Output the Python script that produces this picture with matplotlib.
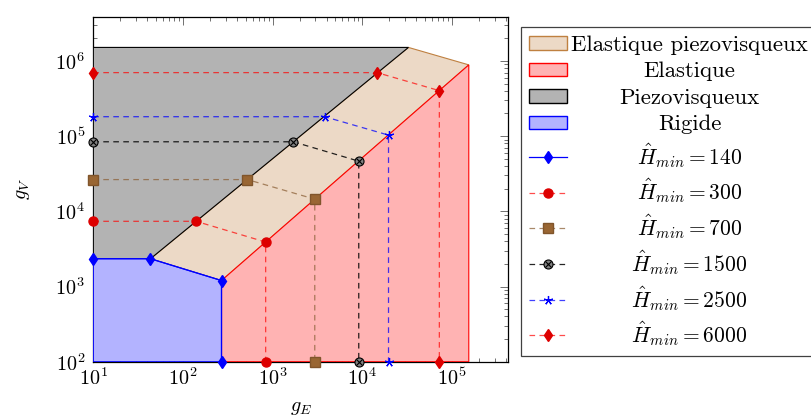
import numpy as np
import matplotlib.pyplot as plt
from matplotlib.patches import Patch
from matplotlib.ticker import LogLocator, NullFormatter
from matplotlib.legend_handler import HandlerTuple

plt.rcParams['font.family'] = 'serif'
plt.rcParams['font.serif'] = ['cmr10']
plt.rcParams['mathtext.fontset'] = 'cm'
plt.rcParams['axes.formatter.use_mathtext'] = True

# regime regions (polygon vertices in g_E, g_V)
rigide_ge = [10, 10, 43.4, 269, 269]
rigide_gv = [100, 2340, 2340, 1200, 100]
piezo_ge = [10, 10, 32700, 43.4]
piezo_gv = [2340, 1.51e6, 1.51e6, 2340]
elpiezo_ge = [43.4, 32700, 154000, 269]
elpiezo_gv = [2340, 1.51e6, 885000, 1200]
elast_ge = [269, 269, 154000, 154000]
elast_gv = [100, 1200, 885000, 100]

region_labels = ['Elastique piezovisqueux', 'Elastique', 'Piezovisqueux', 'Rigide']

# iso H_min curves
h_values = [140, 300, 700, 1500, 2500, 6000]
h140_ge = [10, 43.4, 269, 269]
h140_gv = [2340, 2340, 1200, 100]
h300_ge = [10, 140, 836, 836]
h300_gv = [7360, 7360, 3900, 100]
h700_ge = [10, 524, 2950, 2950]
h700_gv = [26400, 26400, 14500, 100]
h1500_ge = [10, 1700, 9130, 9130]
h1500_gv = [84000, 84000, 46400, 100]
h2500_ge = [10, 3800, 19600, 19600]
h2500_gv = [181000, 181000, 103000, 100]
h6000_ge = [10, 14600, 72300, 72300]
h6000_gv = [698000, 698000, 402000, 100]

FS = 14.5

fig = plt.figure(figsize=(8.12, 4.16), dpi=100)
ax = fig.add_axes([0.1149, 0.1305, 0.511, 0.829])
ax.set_xscale('log')
ax.set_yscale('log')
ax.set_xlim(10, 4.24e5)
ax.set_ylim(100, 3.85e6)
ax.set_axisbelow(True)

# regions
ax.fill(elpiezo_ge, elpiezo_gv, facecolor='#ecd9c6', edgecolor='#bf8040', lw=0.8, zorder=3)
ax.fill(elast_ge, elast_gv, facecolor='#ffb3b3', edgecolor='red', lw=0.8, zorder=3)
ax.fill(piezo_ge, piezo_gv, facecolor='#b3b3b3', edgecolor='black', lw=0.8, zorder=3)
ax.fill(rigide_ge, rigide_gv, facecolor='#b3b3ff', edgecolor='blue', lw=0.8, zorder=3)

dash = (0, (4.5, 3.5))
kw = dict(clip_on=False, zorder=5, lw=0.9)

l140, = ax.plot(h140_ge, h140_gv, color='blue', marker='d', ms=6,
                mfc='blue', mec='blue', **kw)
l300, = ax.plot(h300_ge, h300_gv, color=(1, 0, 0, 0.7), ls=dash, marker='o', ms=6.5,
                mfc='#dd0000', mec='#dd0000', **kw)
l700, = ax.plot(h700_ge, h700_gv, color=(0.55, 0.38, 0.22, 0.75), ls=dash, marker='s', ms=6.5,
                mfc='#996633', mec='#80552b', **kw)
l1500, = ax.plot(h1500_ge, h1500_gv, color=(0, 0, 0, 0.85), ls=dash, marker='o', ms=6.5,
                 mfc='#808080', mec='black', mew=0.8, **kw)
x1500, = ax.plot(h1500_ge, h1500_gv, ls='none', marker='x', ms=4, mec='black',
                 mew=0.8, clip_on=False, zorder=6)
l2500, = ax.plot(h2500_ge, h2500_gv, color=(0, 0, 1, 0.75), ls=dash, marker=(5, 2, 0), ms=6.5,
                 mec='blue', mew=0.9, **kw)
l6000, = ax.plot(h6000_ge, h6000_gv, color=(1, 0, 0, 0.7), ls=dash, marker='d', ms=6,
                 mfc='#dd0000', mec='#dd0000', **kw)

# axes styling
ax.xaxis.set_minor_locator(LogLocator(base=10, subs=np.arange(2, 10), numticks=100))
ax.yaxis.set_minor_locator(LogLocator(base=10, subs=np.arange(2, 10), numticks=100))
ax.xaxis.set_minor_formatter(NullFormatter())
ax.yaxis.set_minor_formatter(NullFormatter())
ax.tick_params(which='both', direction='in', top=True, right=True, color='0.35', width=0.6)
ax.tick_params(which='major', length=5.5)
ax.tick_params(which='minor', length=3)
ax.tick_params(axis='x', which='major', labelsize=FS, pad=4)
ax.tick_params(axis='y', which='major', labelsize=FS, pad=6)
for s in ax.spines.values():
    s.set_linewidth(0.9)

ax.set_xlabel('$g_E$', fontsize=FS)
ax.set_ylabel('$g_V$', fontsize=FS)
ax.xaxis.set_label_coords(0.502, -0.108)
ax.yaxis.set_label_coords(-0.148, 0.5)

# legend
handles = [
    Patch(facecolor='#ecd9c6', edgecolor='#bf8040'),
    Patch(facecolor='#ffb3b3', edgecolor='red'),
    Patch(facecolor='#b3b3b3', edgecolor='black'),
    Patch(facecolor='#b3b3ff', edgecolor='blue'),
    l140, l300, l700, (l1500, x1500), l2500, l6000,
]
labels = region_labels + [r'$\hat{H}_{min} = %d$' % h for h in h_values]
leg = ax.legend(handles, labels, loc='upper left', bbox_to_anchor=(521 / 812, 1 - 27 / 416),
                bbox_transform=fig.transFigure, borderaxespad=0, fontsize=15.5,
                fancybox=False, edgecolor='0.25', framealpha=1, handlelength=1.75,
                handleheight=0.6, handletextpad=0.2, borderpad=0.38, labelspacing=0.32,
                handler_map={tuple: HandlerTuple(ndivide=1)})
leg.get_frame().set_linewidth(0.9)
for t in leg.get_texts()[:4]:
    t.set_fontsize(16.4)

# centre legend labels like pgfplots
fig.canvas.draw()
texts = leg.get_texts()
widths = [t.get_window_extent().width for t in texts]
wmax = max(widths)
for t, w in zip(texts, widths):
    t.set_x((wmax - w) / 2)

fig.savefig('out.png', dpi=100)
